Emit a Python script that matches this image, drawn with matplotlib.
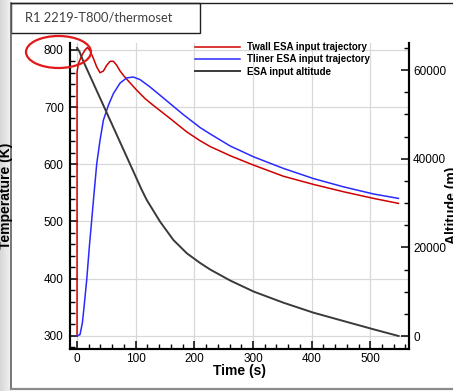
import numpy as np
import matplotlib.pyplot as plt
from matplotlib.patches import Ellipse, Rectangle
from matplotlib.ticker import MultipleLocator

plt.rcParams['font.family'] = ['Liberation Sans', 'DejaVu Sans']

# Twall (ESA input trajectory), K
t_wall = [0, 0, 2.3, 8, 13.7, 17.6, 22, 27.9, 33.6, 39.2, 44.9, 50.6, 56.3, 62,
          67.7, 73.4, 79, 87.5, 101.9, 116, 130, 158.7, 187, 210, 227, 261, 301,
          352, 403, 454, 505.6, 548]
T_wall = [300, 761, 776, 790, 800, 804, 799, 785, 770, 760, 763, 773, 780, 780,
          773, 763, 755.5, 745.6, 729.3, 714.8, 703, 680, 656.6, 641, 631, 615,
          598.5, 579, 564.8, 552, 540.3, 531.6]

# Tliner (ESA input trajectory), K
t_liner = [0, 5, 9, 12, 16.5, 21, 25, 29, 33.6, 39.2, 44.9, 53.4, 62, 73.4, 84.8,
           96, 107.5, 124.6, 141.6, 158.7, 181, 210, 227, 261, 301, 352, 403, 454,
           505.6, 548]
T_liner = [300, 302, 322, 351, 398, 456, 502.5, 549, 601, 642, 677, 703, 723.6,
           742, 751, 752.5, 748, 735, 720.6, 706, 687, 664, 653, 632, 613,
           592.7, 575, 560.6, 548, 540.3]

# ESA input altitude, m
t_alt = [0, 4, 10, 50, 100, 110.4, 118.9, 141.6, 164.3, 187.2, 209.9, 227,
         261.1, 300.9, 352, 403.2, 454.4, 505.6, 548.3]
alt = [65000, 64200, 62200, 50550, 35970, 32940, 30680, 25790, 21660, 18660,
       16470, 15000, 12520, 10040, 7510, 5260, 3380, 1510, 0]

W, H = 453, 391
fig = plt.figure(figsize=(W / 100, H / 100), dpi=100)

# grey strip on the left and the slide frame
bg = fig.add_axes([0, 0, 1, 1], zorder=-10)
bg.set_xlim(0, W)
bg.set_ylim(H, 0)
bg.axis('off')
grad = np.linspace(0.84, 0.95, 50).reshape(1, -1)
bg.imshow(grad, extent=(0, 11, H, 0), cmap='gray', vmin=0, vmax=1, aspect='auto')
bg.plot([11, 11], [3, 389], color='#606060', lw=1.2)
bg.plot([11, W], [3, 3], color='#202020', lw=1.0)
bg.plot([11, W], [388.5, 388.5], color='#8a8a8a', lw=1.6)
bg.add_patch(Rectangle((11, 3), 189, 29.5, facecolor='white', edgecolor='#202020', lw=1.0))
bg.text(25, 18, 'R1 2219-T800/thermoset', fontsize=9.3, color='#404040',
        family=['Lato', 'DejaVu Sans'], va='center', ha='left')

ax = fig.add_axes([70 / W, 1 - 349 / H, 339 / W, 306 / H])
ax2 = ax.twinx()

ln1, = ax.plot(t_wall, T_wall, color='#d00000', lw=1.1)
ln2, = ax.plot(t_liner, T_liner, color='#2a2aff', lw=1.1)
ln3, = ax2.plot(t_alt, alt, color='#3a3a3a', lw=1.4)

ax.set_xlim(-12, 566)
ax.set_ylim(277, 812)
ax2.set_ylim(-2930, 66100)

ax.xaxis.set_major_locator(MultipleLocator(100))
ax.xaxis.set_minor_locator(MultipleLocator(20))
ax.yaxis.set_major_locator(MultipleLocator(100))
ax.yaxis.set_minor_locator(MultipleLocator(20))
ax2.yaxis.set_major_locator(MultipleLocator(20000))
ax2.yaxis.set_minor_locator(MultipleLocator(5000))

ax.grid(True, which='major', color='#d8d8d8', lw=0.9)
ax.set_axisbelow(True)

for a in (ax, ax2):
    a.spines['top'].set_visible(False)
    for s in ('left', 'right', 'bottom'):
        a.spines[s].set_linewidth(1.5)
    a.tick_params(which='major', direction='in', length=6, width=1.1, labelsize=8.5)
    a.tick_params(which='minor', direction='in', length=3.5, width=1.0)
ax.tick_params(axis='y', which='both', right=False)
ax.tick_params(axis='y', pad=4.5)
ax.tick_params(axis='x', pad=3)
ax2.tick_params(axis='y', pad=3)

ax.set_xlabel('Time (s)', fontsize=10, fontweight='bold')
ax.xaxis.set_label_coords(0.501, -0.05)
ax.set_ylabel('Temperature (K)', fontsize=10, fontweight='bold')
ax.yaxis.set_label_coords(-0.168, 0.5)
fig.text(445 / W, 1 - 205 / H, 'Altitude (m)', rotation=90, fontsize=10,
         fontweight='bold', ha='left', va='center')

leg = ax2.legend([ln1, ln2, ln3],
                 ['Twall ESA input trajectory', 'Tliner ESA input trajectory',
                  'ESA input altitude'],
                 loc='upper left', bbox_to_anchor=(195 / W, 1 - 42 / H),
                 bbox_transform=fig.transFigure, frameon=False, borderpad=0,
                 borderaxespad=0, handlelength=4.6, handletextpad=0.7,
                 labelspacing=0.25, prop={'size': 7, 'weight': 'bold'})

# red ellipse highlighting the peak
top = fig.add_axes([0, 0, 1, 1], zorder=10)
top.set_xlim(0, W)
top.set_ylim(H, 0)
top.axis('off')
top.add_patch(Ellipse((58.5, 52), 65, 32, facecolor='none', edgecolor='#e01a1a', lw=1.6))

fig.savefig('out.png', dpi=100)
